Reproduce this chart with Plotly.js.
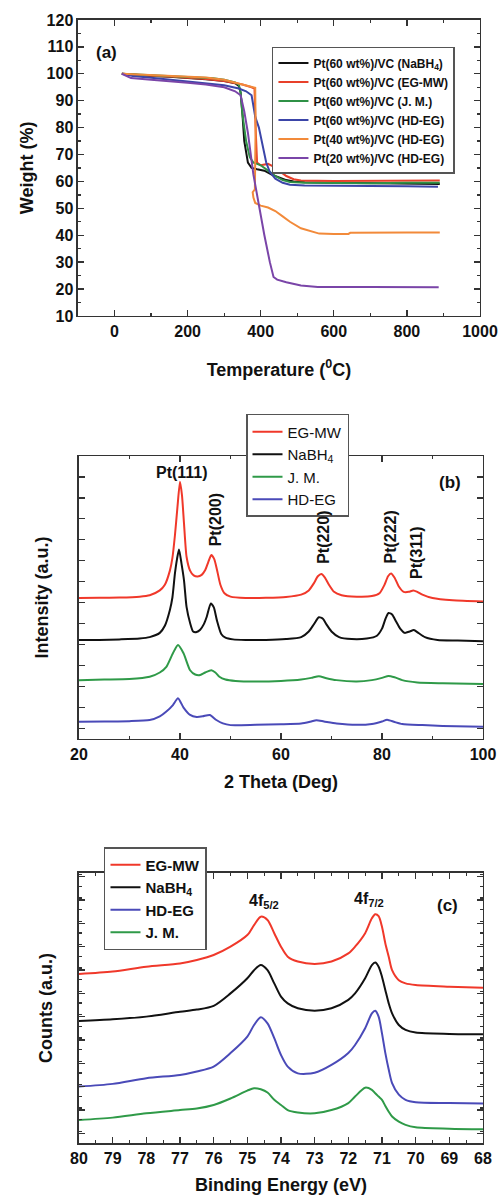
<!DOCTYPE html>
<html><head><meta charset="utf-8">
<script src="https://cdn.plot.ly/plotly-3.0.1.min.js"></script>
<style>html,body{margin:0;padding:0;background:#fff;}#chart{width:499px;height:1195px;}</style>
</head><body><div id="chart"></div>
<script>
// ---------- Panel (a): TGA ----------
const tgaNames = ['Pt(60 wt%)/VC (NaBH<sub>4</sub>)','Pt(60 wt%)/VC (EG-MW)','Pt(60 wt%)/VC (J. M.)','Pt(60 wt%)/VC (HD-EG)','Pt(40 wt%)/VC (HD-EG)','Pt(20 wt%)/VC (HD-EG)'];
const tgaT_NaBH4 = [20,50,100,150,200,250,300,330,340,345,350,355,365,375,390,410,430,450,470,490,520,600,700,800,890];
const tgaW_NaBH4 = [100,99.6,99.2,98.9,98.5,98,97.3,96.5,95.5,93,85,75,67,65,64.5,64,62.5,61.5,60.5,60,59.7,59.5,59.3,59.2,59];
const tgaT_EGMW = [20,50,100,150,200,250,300,350,375,383,386,390,400,410,420,435,450,470,490,510,600,700,800,890];
const tgaW_EGMW = [100,99.7,99.3,99,98.6,98.1,97.3,96,95,94.5,80,67,66,66.3,66.5,65.5,64,62,60.8,60.3,60.2,60.2,60.3,60.3];
const tgaT_JM = [20,50,100,150,200,250,270,300,330,340,345,350,360,370,380,390,400,420,440,460,480,520,600,700,800,890];
const tgaW_JM = [100,99.8,99.5,99.2,98.9,98.5,98.3,97.8,96.8,96,93,85,75,69,67,66.5,66,64,62,60.5,59.8,59.5,59.3,59.3,59.5,59.5];
const tgaT_HD60 = [20,50,100,150,200,250,300,340,360,375,380,385,395,405,415,425,440,460,480,520,600,700,800,885];
const tgaW_HD60 = [100,99.2,98.5,97.8,97.2,96.6,95.7,94.5,93.5,92,88,84,80,73,67,63.5,61,59.5,58.8,58.5,58.5,58.3,58.2,58];
const tgaT_HD40 = [20,50,100,150,200,250,300,350,370,380,385,386,384,378,380,385,400,420,440,460,480,510,540,560,600,640,645,700,800,890];
const tgaW_HD40 = [100,99.8,99.5,99.2,99,98.6,97.8,96,95.2,95,94.8,80,57,56,54,52,51,50.3,49,47,45,42.6,41.3,40.6,40.5,40.5,40.9,41,41,41];
const tgaT_HD20 = [20,45,100,150,200,250,300,330,345,355,365,380,395,410,425,435,445,470,510,556,700,887];
const tgaW_HD20 = [100,98.4,97.8,97.3,96.7,96,95,93.5,92,86,78,62.5,51,40,30,24.5,23.5,22.5,21.3,20.8,20.8,20.7];
const tgaColors = ['#111111','#e8402a','#2f9146','#3b45a8','#f28a3a','#7a45a8'];

// ---------- Panel (b): XRD ----------
const xrdNames = ['EG-MW','NaBH<sub>4</sub>','J. M.','HD-EG'];
const xrdX_EGMW = [20,24,28,32,34,36,37,38,38.5,39,39.5,40,40.4,40.8,41.3,42,42.7,43.5,44.3,45,45.6,46.2,46.8,47.3,48,48.8,50,53,57,61,64,65.5,66.5,67.3,68,68.7,69.5,70.5,72,75,78,79.5,80.5,81.2,81.8,82.5,83.3,84.3,85.3,86.2,87,88,90,94,100];
const xrdY_EGMW = [49.8,49.9,50,50.3,50.8,52.5,54.5,59.5,64,72,82,90.9,86,76,64.4,59.5,57.8,57.4,58,59.7,62.5,65,63.5,60,54.5,51.5,50.3,49.8,49.9,50.2,51,52.5,55,57.5,58.3,57,54.5,52,50.8,50.3,50.5,51.5,54.5,57.5,58.5,57,54,52,52,52.5,52,51,49.8,49,48.6];
const xrdX_NaBH4 = [20,24,28,32,34,36,37,38,38.5,39,39.4,39.8,40.3,40.8,41.3,42,42.6,43.3,44,44.7,45.3,46.1,46.7,47.3,48.2,49,50.5,53,57,61,64,65.5,66.5,67.5,68.3,69,70,71.5,74,77,79,80,80.7,81.3,82,82.8,83.6,84.5,85.5,86.3,87.2,88.5,91,95,100];
const xrdY_NaBH4 = [35,35,35.2,35.5,36,37.5,40,45.6,50,58.5,63.5,67,62,56,46.7,41,38,37.8,38.6,40.5,43.2,47.9,46.5,42,37,35.8,35.2,35,35,35.3,36,38,40.5,43,42.5,40.5,38,36,35.3,35.5,36.5,39,42.5,44.5,44,41.5,39,37.5,38,38.5,37.5,36,35,34.8,34.5];
const xrdX_JM = [20,25,30,34,36,37.3,38.6,39.6,40.7,42,43,44,45,46.2,47,47.8,49,51,55,60,64,66,67.5,69,71,75,78,80,81.3,82.5,84,87,92,100];
const xrdY_JM = [20.8,21,21.2,22,23.5,25.5,30.3,33.2,30.3,24.3,22.8,22.6,23.5,24.3,23.5,22,21,20.5,20.3,20.5,21,21.6,22.2,21.5,20.8,20.3,20.8,21.6,22.3,21.8,20.8,20,19.7,19.4];
const xrdX_HDEG = [20,25,30,34,36,37.3,38.6,39.6,40.7,42,43.3,44.5,45.9,47.2,48.5,50,55,60,64,66,67,68.5,71,75,78,80,81,82.5,84,88,92,100];
const xrdY_HDEG = [6.1,6.2,6.3,6.7,8,9.7,12,14.4,11.1,8.5,7.8,8,8.5,6.7,5.5,4.9,5,5.2,5.5,6.2,6.6,6.2,5.5,5,5.3,6.2,6.8,6,5.3,4.9,4.6,4.3];
const xrdColors = ['#f0382a','#111111','#2f9a48','#4a4ab8'];
const xrdPeakLabels = ['Pt(111)','Pt(200)','Pt(220)','Pt(222)','Pt(311)'];

// ---------- Panel (c): XPS ----------
const xpsNames = ['EG-MW','NaBH<sub>4</sub>','HD-EG','J. M.'];
const xpsE = [80,79,78,77,76.5,76,75.5,75,74.8,74.6,74.4,74.2,74,73.8,73.5,73,72.5,72,71.8,71.5,71.3,71.2,71.1,71,70.9,70.8,70.7,70.5,70.3,70,69,68];
const xpsY_EGMW = [62.6,63.5,65.3,66.5,67.8,69.6,72.7,77,80.7,83.8,82.6,77.7,72.7,69,67.2,66.3,67.2,70.2,72.7,77.7,83.2,84.7,84,80.1,73.9,69,64,60.3,59.1,58.5,57.9,57.5];
const xpsY_NaBH4 = [45.2,45.8,46.8,48.6,49.4,50.8,55.4,61,64,65.9,64,59.1,54.2,51.7,49.9,49,49.9,53,55.4,61,65.9,66.8,65.3,61.6,56.6,51.7,48,43.7,41.9,40.9,40.4,40.3];
const xpsY_HDEG = [20.9,21.9,24,25.2,26.5,28.3,33.3,39.4,43.7,46.6,44.3,38.8,32.6,28.3,25.8,26,28.9,33.3,36.3,42.5,48,49,46.8,40.6,33.3,27.2,22.2,17.9,16,15.1,14.8,14.6];
const xpsY_JM = [8.5,9.4,11,12.2,12.8,14.1,16.5,19.4,20.3,19.9,18.7,16,14.1,12.2,11.3,11,12.2,14.8,17.2,20.5,19.7,18.4,17.2,16,13.7,11.6,9.8,7.9,6.7,5.8,5.3,5.1];
const xpsColors = ['#f0382a','#111111','#4a4ab8','#2f9a48'];
const xpsPeakLabels = ['4f<sub>5/2</sub>','4f<sub>7/2</sub>'];

const FONT = 'Liberation Sans, Arial, sans-serif';
const AX = '#333333';

const traces = [];
const tgaX = [tgaT_NaBH4,tgaT_EGMW,tgaT_JM,tgaT_HD60,tgaT_HD40,tgaT_HD20];
const tgaY = [tgaW_NaBH4,tgaW_EGMW,tgaW_JM,tgaW_HD60,tgaW_HD40,tgaW_HD20];
tgaX.forEach((x,i)=>traces.push({type:'scatter',mode:'lines',x:x,y:tgaY[i],name:tgaNames[i],
  line:{color:tgaColors[i],width:2},xaxis:'x',yaxis:'y',legend:'legend'}));
const xrdX = [xrdX_EGMW,xrdX_NaBH4,xrdX_JM,xrdX_HDEG];
const xrdY = [xrdY_EGMW,xrdY_NaBH4,xrdY_JM,xrdY_HDEG];
xrdX.forEach((x,i)=>traces.push({type:'scatter',mode:'lines',x:x,y:xrdY[i],name:xrdNames[i],
  line:{color:xrdColors[i],width:2,shape:'spline',smoothing:0.6},xaxis:'x2',yaxis:'y2',legend:'legend2'}));
const xpsY = [xpsY_EGMW,xpsY_NaBH4,xpsY_HDEG,xpsY_JM];
xpsY.forEach((y,i)=>traces.push({type:'scatter',mode:'lines',x:xpsE,y:y,name:xpsNames[i],
  line:{color:xpsColors[i],width:2,shape:'spline',smoothing:0.8},xaxis:'x3',yaxis:'y3',legend:'legend3'}));

const titleFont = {family:FONT,size:18,color:'#111',weight:'bold'};
const tickFontB = {family:FONT,size:16,color:'#111',weight:'bold'};
function axis(extra){
  return Object.assign({showline:true,linecolor:AX,linewidth:1.5,mirror:'allticks',ticks:'inside',
    ticklen:6,tickwidth:1.3,tickcolor:AX,showgrid:false,zeroline:false,tickfont:tickFontB},extra);
}

const layout = {
  width:499,height:1195,margin:{l:0,r:0,t:0,b:0},
  paper_bgcolor:'#fff',plot_bgcolor:'#fff',showlegend:true,
  font:{family:FONT,color:'#111'},
  xaxis:axis({domain:[0.1563,0.9619],anchor:'y',range:[-100,1000],tick0:0,dtick:200,
    minor:{dtick:100,ticklen:3,tickcolor:AX,ticks:'inside'},
    title:{text:'Temperature (<sup>0</sup>C)',font:titleFont,standoff:24}}),
  yaxis:axis({domain:[0.7356,0.9833],anchor:'x',range:[10,120],dtick:10,
    minor:{dtick:5,ticklen:3,tickcolor:AX,ticks:'inside'},
    title:{text:'Weight (%)',font:titleFont,standoff:8}}),
  xaxis2:axis({domain:[0.1583,0.9679],anchor:'y2',range:[20,100],dtick:20,
    minor:{dtick:10,ticklen:3,tickcolor:AX,ticks:'inside'},
    title:{text:'2 Theta (Deg)',font:titleFont,standoff:13}}),
  yaxis2:axis({domain:[0.3816,0.6184],anchor:'x2',range:[0,100],tick0:3.8,dtick:7.4,
    showticklabels:false,title:{text:'Intensity (a.u.)',font:titleFont,standoff:24}}),
  xaxis3:axis({domain:[0.1583,0.9679],anchor:'y3',range:[80,68],dtick:1,
    minor:{dtick:0.5,ticklen:3,tickcolor:AX,ticks:'inside'},
    title:{text:'Binding Energy (eV)',font:titleFont,standoff:13}}),
  yaxis3:axis({domain:[0.0435,0.2695],anchor:'x3',range:[0,100],tick0:3.6,dtick:8.64,
    minor:{dtick:4.32,ticklen:3,tickcolor:AX,ticks:'inside'},
    showticklabels:false,title:{text:'Counts (a.u.)',font:titleFont,standoff:20}}),
  legend:{x:0.545,y:0.9607,xanchor:'left',yanchor:'top',bgcolor:'#fff',bordercolor:'#555',borderwidth:1.5,
    font:{family:FONT,size:12,color:'#111',weight:'bold'},tracegroupgap:0},
  legend2:{x:0.493,y:0.6536,xanchor:'left',yanchor:'top',bgcolor:'#fff',bordercolor:'#555',borderwidth:1.5,
    font:{family:FONT,size:15,color:'#111'}},
  legend3:{x:0.2084,y:0.2912,xanchor:'left',yanchor:'top',bgcolor:'#fff',bordercolor:'#555',borderwidth:1.5,
    font:{family:FONT,size:15,color:'#111',weight:'bold'}},
  annotations:[
    {xref:'x',yref:'y',x:-22,y:107.8,text:'(a)',showarrow:false,font:{family:FONT,size:17,weight:'bold'}},
    {xref:'x2',yref:'y2',x:40.4,y:94,text:xrdPeakLabels[0],showarrow:false,font:{family:FONT,size:16,weight:'bold'}},
    {xref:'x2',yref:'y2',x:47.2,y:77.4,text:xrdPeakLabels[1],textangle:-90,showarrow:false,font:{family:FONT,size:16,weight:'bold'}},
    {xref:'x2',yref:'y2',x:68.5,y:71.4,text:xrdPeakLabels[2],textangle:-90,showarrow:false,font:{family:FONT,size:16,weight:'bold'}},
    {xref:'x2',yref:'y2',x:81.7,y:71.4,text:xrdPeakLabels[3],textangle:-90,showarrow:false,font:{family:FONT,size:16,weight:'bold'}},
    {xref:'x2',yref:'y2',x:86.7,y:65.7,text:xrdPeakLabels[4],textangle:-90,showarrow:false,font:{family:FONT,size:16,weight:'bold'}},
    {xref:'x2',yref:'y2',x:93.5,y:90.5,text:'(b)',showarrow:false,font:{family:FONT,size:17,weight:'bold'}},
    {xref:'x3',yref:'y3',x:74.5,y:89.3,text:xpsPeakLabels[0],showarrow:false,font:{family:FONT,size:16,weight:'bold'}},
    {xref:'x3',yref:'y3',x:71.4,y:90,text:xpsPeakLabels[1],showarrow:false,font:{family:FONT,size:16,weight:'bold'}},
    {xref:'x3',yref:'y3',x:69.04,y:88,text:'(c)',showarrow:false,font:{family:FONT,size:17,weight:'bold'}}
  ]
};
Plotly.newPlot('chart',traces,layout,{displayModeBar:false,staticPlot:true});
</script></body></html>
